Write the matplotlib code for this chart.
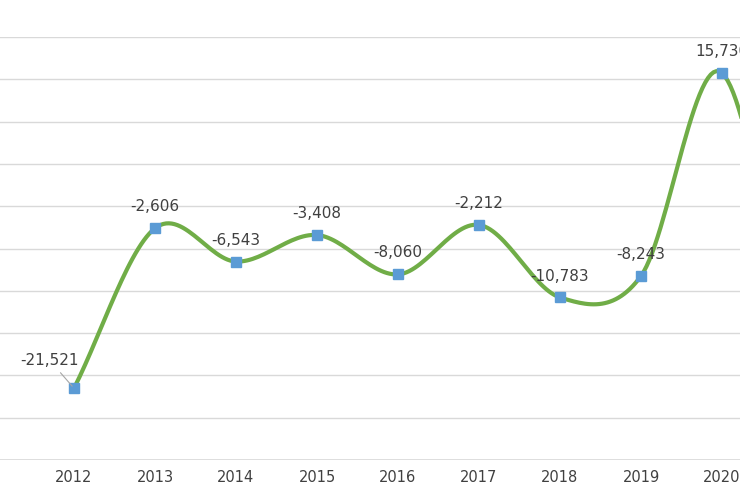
import numpy as np
import matplotlib.pyplot as plt

years = [2012, 2013, 2014, 2015, 2016, 2017, 2018, 2019, 2020, 2021]
values = [-21521, -2606, -6543, -3408, -8060, -2212, -10783, -8243, 15730, -25000]
labels = ['-21,521', '-2,606', '-6,543', '-3,408', '-8,060', '-2,212', '-10,783', '-8,243', '15,730', '-25,000']


def smooth(x, y, n=30):
    # Excel-like smoothed line (Catmull-Rom through the points)
    x = np.asarray(x, float); y = np.asarray(y, float)
    px = np.concatenate([[2 * x[0] - x[1]], x, [2 * x[-1] - x[-2]]])
    py = np.concatenate([[2 * y[0] - y[1]], y, [2 * y[-1] - y[-2]]])
    xs, ys = [], []
    t = np.linspace(0, 1, n)
    for i in range(1, len(px) - 2):
        p0, p1, p2, p3 = [np.array([px[j], py[j]]) for j in range(i - 1, i + 3)]
        c1 = p1 + (p2 - p0) / 6
        c2 = p2 - (p3 - p1) / 6
        b = ((1 - t)[:, None] ** 3 * p1 + 3 * ((1 - t) ** 2 * t)[:, None] * c1
             + 3 * ((1 - t) * t ** 2)[:, None] * c2 + (t ** 3)[:, None] * p2)
        xs.extend(b[:, 0]); ys.extend(b[:, 1])
    return xs, ys


fig = plt.figure(figsize=(7.4, 5.0), dpi=100)
ax = fig.add_axes([0, 0.08, 1, 0.846])
ax.set_yticks(np.arange(-30000, 20001, 5000))
ax.yaxis.grid(True, color='#d9d9d9', lw=1)
ax.set_axisbelow(True)
for s in ax.spines.values():
    s.set_visible(False)
ax.axhline(-30000, color='#d9d9d9', lw=1.2)
ax.tick_params(left=False, labelleft=False, bottom=False)
ax.set_xticks(years)
ax.set_xticklabels([str(y) for y in years], fontsize=10.5, color='#404040')

sx, sy = smooth(years, values)
ax.plot(sx, sy, color='#70AD47', lw=3)
ax.plot(years, values, 's', color='#5B9BD5', ms=7, ls='none', zorder=3)

for yr, v, lab in zip(years, values, labels):
    if yr == 2012:
        ax.annotate(lab, (yr, v), xytext=(yr - 0.3, v + 3300), ha='center', va='center',
                    fontsize=11, color='#404040',
                    arrowprops=dict(arrowstyle='-', color='#a6a6a6', lw=0.8))
    elif yr == 2021:
        ax.annotate(lab, (yr, v), xytext=(-8, -16), textcoords='offset points',
                    ha='center', va='top', fontsize=11, color='#404040', annotation_clip=False)
    else:
        ax.annotate(lab, (yr, v), xytext=(0, 10), textcoords='offset points',
                    ha='center', va='bottom', fontsize=11, color='#404040')

# limits set last so the ticks do not widen them; the chart is cropped at the right
ax.set_xlim(2012 - 74 / 81, 2012 - 74 / 81 + 740 / 81)
ax.set_ylim(-30000, 20000)

fig.savefig('out.png', dpi=100)
